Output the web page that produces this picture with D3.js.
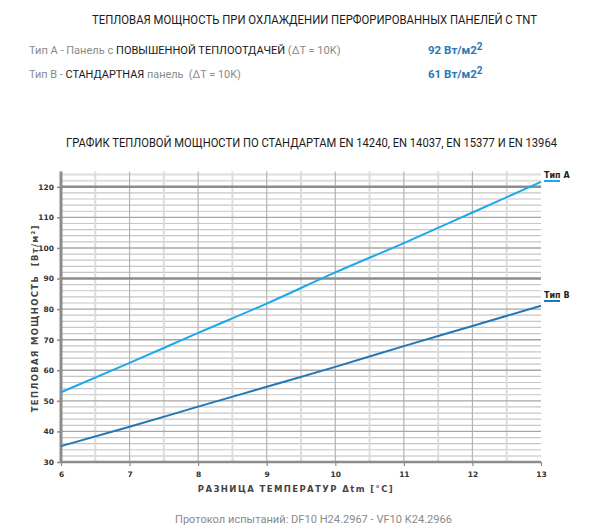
<!DOCTYPE html>
<html>
<head>
<meta charset="utf-8">
<script src="https://cdn.jsdelivr.net/npm/d3@7"></script>
<style>
  body { margin: 0; background: #fff; }
  text { font-family: Roboto, "Open Sans", sans-serif; white-space: pre; }
</style>
</head>
<body>
<div id="chart"></div>
<script>
// chart data
const xValues = [6, 7, 8, 9, 10, 11, 12, 13];
const typeA = [52.8, 62.4, 72.2, 81.8, 92.0, 101.6, 111.6, 121.6];
const typeB = [35.2, 41.5, 48.1, 54.6, 61.1, 67.9, 74.5, 81.1];
const xTicks = [6, 7, 8, 9, 10, 11, 12, 13];
const yTicks = [30, 40, 50, 60, 70, 80, 90, 100, 110, 120];
const seriesNames = ["Тип A", "Тип B"];
const seriesColors = ["#1ca9ea", "#2176b6"];

const W = 600, H = 531;
const svg = d3.select("#chart").append("svg")
    .attr("width", W)
    .attr("height", H);

// scale a text's font size so it spans the given width
function fitWidth(sel, width, base) {
  const len = sel.node().getComputedTextLength();
  sel.style("font-size", (base * width / len).toFixed(2) + "px");
}

// header texts
svg.append("text")
    .attr("x", 92).attr("y", 24)
    .attr("textLength", 445).attr("lengthAdjust", "spacingAndGlyphs")
    .style("font-size", "12.5px").attr("fill", "#1a1a1a")
    .text("ТЕПЛОВАЯ МОЩНОСТЬ ПРИ ОХЛАЖДЕНИИ ПЕРФОРИРОВАННЫХ ПАНЕЛЕЙ С TNT");

const row1 = svg.append("text")
    .attr("x", 29).attr("y", 54)
    .style("font-size", "11px");
row1.append("tspan").attr("fill", "#8a8a8a").text("Тип A - Панель с ");
row1.append("tspan").attr("fill", "#1a1a1a").text("ПОВЫШЕННОЙ ТЕПЛООТДАЧЕЙ");
row1.append("tspan").attr("fill", "#8a8a8a").text(" (ΔT = 10K)");
fitWidth(row1, 312, 11);

const row2 = svg.append("text")
    .attr("x", 29).attr("y", 78)
    .style("font-size", "11px");
row2.append("tspan").attr("fill", "#8a8a8a").text("Тип B - ");
row2.append("tspan").attr("fill", "#1a1a1a").text("СТАНДАРТНАЯ");
row2.append("tspan").attr("fill", "#8a8a8a").text(" панель  (ΔT = 10K)");
fitWidth(row2, 212, 11);

[["92 Вт/м2", 54], ["61 Вт/м2", 78]].forEach(([t, yy]) => {
  const v = svg.append("text")
      .attr("x", 428).attr("y", yy)
      .style("font-size", "11.5px").style("font-weight", "bold")
      .attr("fill", "#2a78b8");
  v.append("tspan").text(t);
  v.append("tspan").attr("dy", -4).style("font-size", "10px").text("2");
});

svg.append("text")
    .attr("x", 66).attr("y", 147)
    .attr("textLength", 491).attr("lengthAdjust", "spacingAndGlyphs")
    .style("font-size", "12px").attr("fill", "#1a1a1a")
    .text("ГРАФИК ТЕПЛОВОЙ МОЩНОСТИ ПО СТАНДАРТАМ EN 14240, EN 14037, EN 15377 И EN 13964");

// scales
const x = d3.scaleLinear().domain([6, 13]).range([61, 541]);
const y = d3.scaleLinear().domain([30, 125]).range([462, 171.5]);

const grid = svg.append("g");

// horizontal minor grid every 2
d3.range(32, 125, 2).filter(v => v % 10 !== 0).forEach(v => {
  grid.append("line")
      .attr("x1", x(6)).attr("x2", x(13))
      .attr("y1", y(v)).attr("y2", y(v))
      .attr("stroke", (v > 120 || v === 32) ? "#dedede" : "#c6c6c6")
      .attr("stroke-width", (v > 120 || v === 32) ? 2 : 1.2);
});

// vertical grid
d3.range(6.5, 13, 0.5).forEach(v => {
  const major = Number.isInteger(v);
  grid.append("line")
      .attr("x1", x(v)).attr("x2", x(v))
      .attr("y1", y(125)).attr("y2", y(30))
      .attr("stroke", major ? "#b4b4b4" : "#dcdcdc")
      .attr("stroke-width", major ? 1.2 : 2);
});

// horizontal major grid
yTicks.forEach(v => {
  const heavy = v === 30 || v === 90 || v === 120;
  grid.append("line")
      .attr("x1", x(6)).attr("x2", x(13))
      .attr("y1", y(v)).attr("y2", y(v))
      .attr("stroke", heavy ? "#8c8c8c" : "#a6a6a6")
      .attr("stroke-width", heavy ? 2.5 : 1.4);
});

// axes
const yAxis = svg.append("g")
    .attr("transform", `translate(${x(6)},0)`)
    .call(d3.axisLeft(y).tickValues(yTicks).tickSize(4).tickPadding(3));
yAxis.select(".domain").remove();
yAxis.selectAll("line").attr("stroke", "#8c8c8c").attr("stroke-width", 1.5);

const xAxis = svg.append("g")
    .attr("transform", `translate(0,${y(30)})`)
    .call(d3.axisBottom(x).tickValues(xTicks).tickFormat(d3.format("d")).tickSize(4).tickPadding(6));
xAxis.select(".domain").remove();
xAxis.selectAll("line").attr("stroke", "#8c8c8c").attr("stroke-width", 1.2);

svg.selectAll(".tick text")
    .style("font-family", "'DejaVu Sans', sans-serif")
    .style("font-size", "7.5px").style("font-weight", "bold")
    .attr("fill", "#333");

svg.append("line")
    .attr("x1", x(6)).attr("x2", x(6))
    .attr("y1", y(125)).attr("y2", y(30) + 1)
    .attr("stroke", "#8c8c8c").attr("stroke-width", 3);

// series lines
const line = d3.line()
    .x((d, i) => x(xValues[i]))
    .y(d => y(d))
    .curve(d3.curveMonotoneX);

[typeA, typeB].forEach((s, i) => {
  svg.append("path")
      .datum(s)
      .attr("d", line)
      .attr("fill", "none")
      .attr("stroke", seriesColors[i])
      .attr("stroke-width", 2);
});

// series labels at the right
[typeA, typeB].forEach((s, i) => {
  const ly = i === 0 ? 178 : 298;
  svg.append("text")
      .attr("x", 544).attr("y", ly)
      .style("font-family", "'DejaVu Sans', sans-serif")
      .style("font-size", "8px").style("font-weight", "bold")
      .attr("fill", "#222")
      .text(seriesNames[i]);
  svg.append("line")
      .attr("x1", 544).attr("x2", 560)
      .attr("y1", ly + 3).attr("y2", ly + 3)
      .attr("stroke", seriesColors[i]).attr("stroke-width", 2);
});

// axis titles
svg.append("text")
    .attr("transform", `translate(38,${y(77)}) rotate(-90)`)
    .attr("text-anchor", "middle")
    .style("font-family", "'DejaVu Sans', sans-serif")
    .style("font-size", "8.5px").style("font-weight", "bold")
    .style("letter-spacing", "1.3px")
    .attr("fill", "#444")
    .text("ТЕПЛОВАЯ МОЩНОСТЬ  [Вт/м²]");

svg.append("text")
    .attr("x", 296).attr("y", 492)
    .attr("text-anchor", "middle")
    .style("font-family", "'DejaVu Sans', sans-serif")
    .style("font-size", "8.5px").style("font-weight", "bold")
    .style("letter-spacing", "1.4px")
    .attr("fill", "#444")
    .text("РАЗНИЦА ТЕМПЕРАТУР Δtm [°C]");

// footer
svg.append("text")
    .attr("x", 175).attr("y", 523)
    .attr("textLength", 277).attr("lengthAdjust", "spacingAndGlyphs")
    .style("font-size", "11.5px").attr("fill", "#8a8a8a")
    .text("Протокол испытаний: DF10 H24.2967 - VF10 K24.2966");
</script>
</body>
</html>
